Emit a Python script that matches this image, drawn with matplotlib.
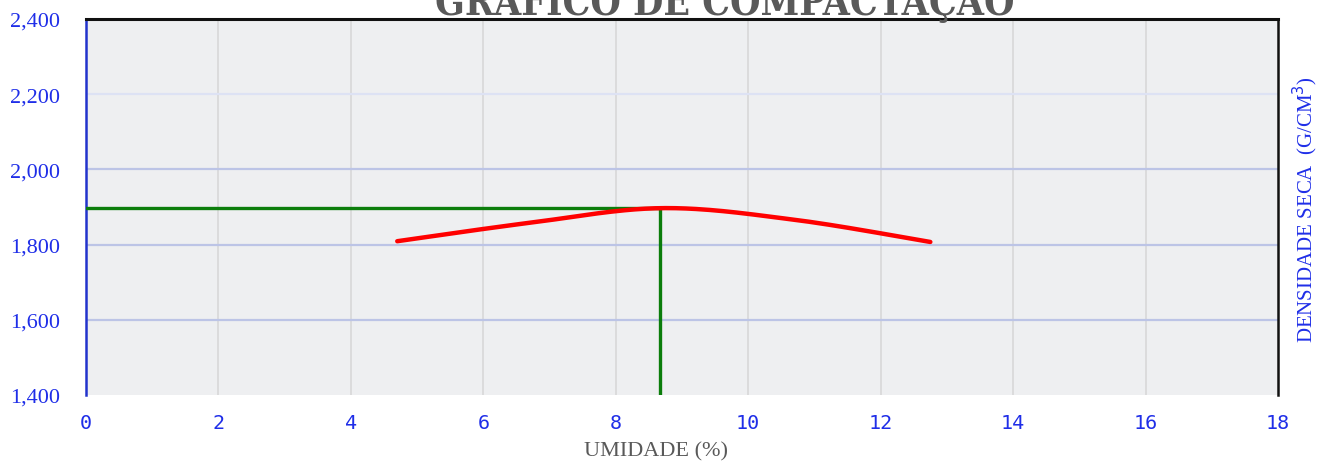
import numpy as np
import matplotlib
matplotlib.use("Agg")
import matplotlib.pyplot as plt

# data
umidade = [4.7, 6.7, 8.7, 10.7, 12.75]
densidade = [1809, 1858, 1897, 1866, 1807]
umidade_otima = 8.67
densidade_max = 1897
x_ticks = [0, 2, 4, 6, 8, 10, 12, 14, 16, 18]
y_ticks = [1400, 1600, 1800, 2000, 2200, 2400]


def smooth(xs, ys, n=40):
    """Excel-style smoothed line (Bezier through points)."""
    xs = np.asarray(xs, float); ys = np.asarray(ys, float)
    px = np.concatenate([[xs[0]], xs, [xs[-1]]])
    py = np.concatenate([[ys[0]], ys, [ys[-1]]])
    ox, oy = [], []
    t = np.linspace(0, 1, n)
    for i in range(1, len(px) - 2):
        p0 = np.array([px[i], py[i]]); p3 = np.array([px[i + 1], py[i + 1]])
        c1 = p0 + (np.array([px[i + 1], py[i + 1]]) - np.array([px[i - 1], py[i - 1]])) / 6
        c2 = p3 - (np.array([px[i + 2], py[i + 2]]) - np.array([px[i], py[i]])) / 6
        b = ((1 - t) ** 3)[:, None] * p0 + (3 * (1 - t) ** 2 * t)[:, None] * c1 \
            + (3 * (1 - t) * t ** 2)[:, None] * c2 + (t ** 3)[:, None] * p3
        ox.extend(b[:, 0]); oy.extend(b[:, 1])
    return ox, oy


fig = plt.figure(figsize=(13.18, 4.64), dpi=100)
ax = fig.add_axes([86 / 1318, 68 / 464, 1192 / 1318, 376 / 464])
ax.set_facecolor("#eeeff1")

ax.set_xlim(0, 18)
ax.set_ylim(1400, 2400)
ax.set_xticks(x_ticks)
ax.set_yticks(y_ticks)
ax.set_yticklabels([f"{v:,}" for v in y_ticks])

for xv in x_ticks[1:-1]:
    ax.axvline(xv, color="#d8d8d8", lw=1.2, zorder=1)
for yv in y_ticks[1:-1]:
    ax.axhline(yv, color="#dde2f4" if yv == 2200 else "#bcc4e6", lw=1.6, zorder=1)

ax.plot([0, umidade_otima], [densidade_max, densidade_max], color="#0b7d0b", lw=2.4, zorder=3)
ax.plot([umidade_otima, umidade_otima], [1400, densidade_max], color="#0b7d0b", lw=2.4, zorder=3)

sx, sy = smooth(umidade, densidade)
ax.plot(sx, sy, color="#ff0000", lw=3.2, solid_capstyle="round", zorder=4)

ax.tick_params(length=0)
ax.tick_params(axis="y", pad=19, colors="#1f2ee8", labelsize=16)
ax.tick_params(axis="x", pad=13, colors="#1f2ee8", labelsize=14.5)
for lab in ax.get_yticklabels():
    lab.set_fontfamily("Liberation Serif")
for lab in ax.get_xticklabels():
    lab.set_fontfamily("DejaVu Sans Mono")

ax.spines["left"].set_color("#2233cc")
ax.spines["left"].set_linewidth(1.8)
ax.spines["top"].set_color("#111111")
ax.spines["top"].set_linewidth(2.2)
ax.spines["right"].set_color("#111111")
ax.spines["right"].set_linewidth(1.8)
ax.spines["bottom"].set_visible(False)

fig.text(725 / 1318, 449 / 464, "GRÁFICO DE COMPACTAÇÃO", ha="center", va="baseline",
         fontsize=28, fontweight="bold", fontstretch="condensed", color="#595959",
         family="DejaVu Serif")
fig.text(656 / 1318, (464 - 452) / 464, "UMIDADE (%)", ha="center", va="center",
         family="Liberation Serif", fontsize=16, color="#595959")
fig.text(1305 / 1318, (464 - 210) / 464, "DENSIDADE SECA  (G/CM$^3$)", rotation=90,
         ha="center", va="center", family="Liberation Serif", fontsize=15, color="#1f2ee8")

fig.savefig("out.png", dpi=100)
